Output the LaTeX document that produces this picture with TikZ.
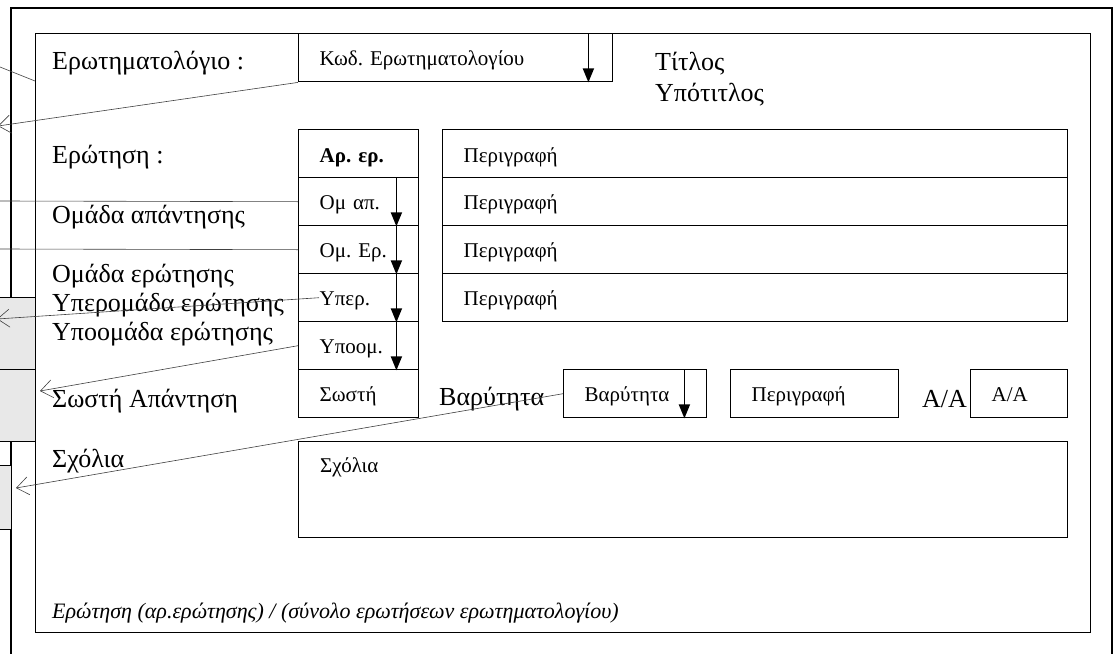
\documentclass[tikz,border=0pt]{standalone}
\usepackage{fontspec}
\setmainfont{Liberation Serif}
\usetikzlibrary{arrows.meta,positioning}
\frenchspacing

\begin{document}
\begin{tikzpicture}[x=1pt,y=-1pt,
  frame/.style={draw,line width=1.3pt},
  greybox/.style={draw,fill=black!9,line width=1.2pt,anchor=north west,inner sep=0pt,minimum width=#1},
  field/.style={draw,line width=1.4pt,anchor=north west,minimum height=48pt,
    inner xsep=21pt,inner ysep=0pt,text width=#1,align=left,text height=16pt,text depth=0pt,
    font=\fontsize{21}{25}\selectfont},
  biglabel/.style={anchor=base west,inner sep=0pt,font=\fontsize{26}{30}\selectfont},
  link/.style={draw=black!75,line width=0.6pt},
  tip/.style={-{Straight Barb[length=12pt,width=18pt,line width=0.6pt]}},
  drop/.style={-{Triangle[length=14pt,width=11pt]},line width=1.7pt}]

  \useasboundingbox (0,0) rectangle (1115,653);

  \draw[frame] (11,660) -- (11,8) -- (1112,8) -- (1112,660);
  \node[greybox=45pt,minimum height=72pt] (g1) at (-10,297) {};
  \node[greybox=45pt,minimum height=72pt] (g2) at (-10,369) {};
  \node[greybox=21pt,minimum height=64pt] (g3) at (-10,465) {};
  \node[frame,anchor=north west,minimum width=1055pt,minimum height=599pt,inner sep=0pt] (form) at (35,33) {};

  \node[field=272pt] (kod) at (298,33) {Κωδ. Ερωτηματολογίου};
  \node[biglabel] (ttl) at (655,70) {Τίτλος};
  \node[biglabel] (sub) at (655,101) {Υπότιτλος};

  \node[field=78pt,text height=18pt] (r1) at (298,129) {\textbf{Αρ. ερ.}};
  \node[field=78pt] (r2) at (298,177) {Ομ απ.};
  \node[field=78pt] (r3) at (298,225) {Ομ. Ερ.};
  \node[field=78pt] (r4) at (298,273) {Υπερ.};
  \node[field=78pt] (r5) at (298,321) {Υποομ.};
  \node[field=78pt] (r6) at (298,369) {Σωστή};

  \node[field=583pt,text height=18pt] (d1) at (442,129) {Περιγραφή};
  \node[field=583pt] (d2) at (442,177) {Περιγραφή};
  \node[field=583pt] (d3) at (442,225) {Περιγραφή};
  \node[field=583pt] (d4) at (442,273) {Περιγραφή};

  \node[field=101pt] (wgt) at (563,369) {Βαρύτητα};
  \node[field=126pt] (wds) at (730,369) {Περιγραφή};
  \node[field=55pt] (aa) at (970,369) {A/A};
  \node[field=727pt,minimum height=96pt] (cmt) at (298,441) {};
  \node[anchor=base west,inner sep=0pt,font=\fontsize{21}{25}\selectfont] (cmtxt) at (320,472) {Σχόλια};

  \node[biglabel] (lq) at (52,69) {Ερωτηματολόγιο :};
  \node[biglabel] (le) at (52,163) {Ερώτηση :};
  \node[biglabel] (lo) at (52,223) {Ομάδα απάντησης};
  \node[biglabel] (lg1) at (52,282) {Ομάδα ερώτησης};
  \node[biglabel] (lg2) at (52,311) {Υπερομάδα ερώτησης};
  \node[biglabel] (lg3) at (52,340) {Υποομάδα ερώτησης};
  \node[biglabel] (ls) at (52,407) {Σωστή Απάντηση};
  \node[biglabel] (lc) at (52,467) {Σχόλια};
  \node[biglabel] (lw) at (439,405) {Βαρύτητα};
  \node[biglabel,anchor=base east] (la) at (967,407) {A/A};
  \node[anchor=base west,inner sep=0pt,font=\fontsize{22}{26}\selectfont\itshape] (foot) at (52,618)
    {Ερώτηση (αρ.ερώτησης) / (σύνολο ερωτήσεων ερωτηματολογίου)};

  \draw[drop] ([xshift=-25pt]kod.north east) -- ([xshift=-25pt]kod.south east);
  \foreach \r in {r2,r3,r4,r5}
    \draw[drop] ([xshift=-23pt]\r.north east) -- ([xshift=-23pt]\r.south east);
  \draw[drop] ([xshift=-23pt]wgt.north east) -- ([xshift=-23pt]wgt.south east);

  \coordinate (e0) at (0,67);
  \coordinate (e1) at (-2,126);
  \coordinate (e2) at (0,201);
  \coordinate (e3) at (0,249);
  \coordinate (e4) at (-3,319);
  \coordinate (e5) at (40,391);
  \coordinate (e6) at (16,488);
  \draw[link] (e0) -- ([yshift=-48pt]form.north west);
  \draw[link,tip] (kod.south west) -- (e1);
  \draw[link] (r2.west) -- (e2);
  \draw[link] (r3.west) -- (e3);
  \draw[link,tip] ([xshift=21pt]r4.west) -- (e4);
  \draw[link,tip] (r5.west) -- (e5);
  \draw[link,tip] (wgt.west) -- (e6);
\end{tikzpicture}
\end{document}
